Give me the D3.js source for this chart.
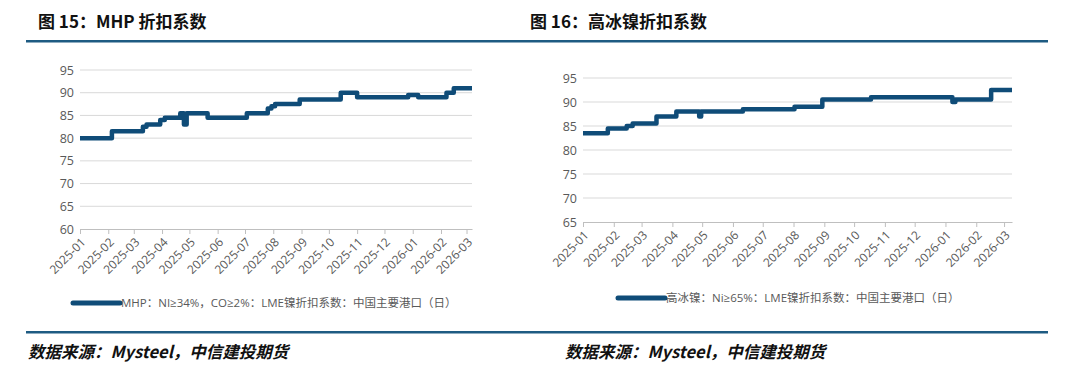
<!DOCTYPE html>
<html lang="zh">
<head>
  <meta charset="UTF-8">
  <title>折扣系数</title>
  <style type="text/css">
    body { margin: 0; background: #fff; }
    svg text { font-family: "Open Sans", "Noto Sans CJK SC", sans-serif; }
    .title { font-family: "Noto Sans CJK SC", serif; font-size: 17px; font-weight: 700; fill: #111; }
    .source { font-family: "Noto Sans CJK SC", serif; font-size: 16.5px; font-weight: 700; font-style: italic; fill: #111; }
    .tick text { font-size: 12px; fill: #595959; }
    .legend { font-size: 11.5px; fill: #595959; }
  </style>
</head>
<body>
<svg id="chart" width="1080" height="369"></svg>

<script src="https://d3js.org/d3.v7.min.js"></script>
<script>
  // MHP 折扣系数 (step changes)
  const mhpDates = ["2025-01-01","2025-02-05","2025-03-11","2025-03-15","2025-03-30","2025-04-04","2025-04-21",
    "2025-04-25","2025-04-28","2025-05-21","2025-07-03","2025-07-26","2025-07-30","2025-08-03","2025-08-30",
    "2025-10-14","2025-11-01","2025-12-27","2026-01-07","2026-02-07","2026-02-15","2026-03-07"]
  const mhpValues = [80, 81.5, 82.5, 83, 84, 84.5, 85.5, 83, 85.5, 84.5, 85.5, 86.5, 87, 87.5, 88.5,
    90, 89, 89.5, 89, 90, 91, 91]

  // 高冰镍 折扣系数 (step changes)
  const nickelDates = ["2025-01-01","2025-01-26","2025-02-14","2025-02-20","2025-03-16","2025-04-05","2025-04-28",
    "2025-04-30","2025-06-11","2025-08-02","2025-08-30","2025-10-18","2026-01-08","2026-01-11","2026-02-16","2026-03-09"]
  const nickelValues = [83.5, 84.5, 85, 85.5, 87, 88, 87, 88, 88.5, 89, 90.5, 91, 90, 90.5, 92.5, 92.5]

  const mhpTicks = [60, 65, 70, 75, 80, 85, 90, 95]
  const nickelTicks = [65, 70, 75, 80, 85, 90, 95]

  const mhpLegend = "MHP：NI≥34%，CO≥2%：LME镍折扣系数：中国主要港口（日）"
  const nickelLegend = "高冰镍：Ni≥65%：LME镍折扣系数：中国主要港口（日）"

  const parse = d3.timeParse("%Y-%m-%d")
  const fmt = d3.timeFormat("%Y-%m")
  const lineColor = "#0f4c78"
  const svg = d3.select("#chart")

  // header and footer rules
  svg.append("rect").attr("x", 26).attr("y", 40).attr("width", 1022).attr("height", 2.5).attr("fill", "#1e5b82")
  svg.append("rect").attr("x", 26).attr("y", 331).attr("width", 1022).attr("height", 2.5).attr("fill", "#1e5b82")

  svg.append("text").attr("class", "title").attr("x", 38).attr("y", 28).text("图 15：MHP 折扣系数")
  svg.append("text").attr("class", "title").attr("x", 530).attr("y", 28).text("图 16：高冰镍折扣系数")
  svg.append("text").attr("class", "source").attr("x", 28).attr("y", 358).text("数据来源：Mysteel，中信建投期货")
  svg.append("text").attr("class", "source").attr("x", 565).attr("y", 358).text("数据来源：Mysteel，中信建投期货")

  function drawPanel (opt) {
    const g = svg.append("g")
    const x = d3.scaleTime()
      .domain([parse(opt.dates[0]), parse(opt.dates[opt.dates.length - 1])])
      .range([opt.x0, opt.x1])
    const y = d3.scaleLinear().domain([opt.yTicks[0], opt.yTicks[opt.yTicks.length - 1]]).range([opt.y0, opt.y1])

    // grid
    g.selectAll(".grid").data(opt.yTicks.slice(1)).enter().append("line")
      .attr("x1", opt.x0).attr("x2", opt.x1)
      .attr("y1", d => y(d)).attr("y2", d => y(d))
      .attr("stroke", "#d9d9d9").attr("stroke-width", 1)

    // y axis labels
    const ya = g.append("g").attr("transform", `translate(${opt.x0 - 6},0)`)
      .call(d3.axisLeft(y).tickValues(opt.yTicks).tickSize(0).tickPadding(0))
    ya.select(".domain").remove()
    ya.selectAll("text").style("font-size", "12.5px")

    // x axis
    const xa = g.append("g").attr("transform", `translate(0,${opt.y0})`)
      .call(d3.axisBottom(x).ticks(d3.timeMonth.every(1)).tickFormat(fmt).tickSize(5).tickSizeOuter(0))
    xa.select(".domain").attr("stroke", "#bfbfbf")
    xa.selectAll(".tick line").attr("stroke", "#bfbfbf")
    xa.selectAll(".tick text")
      .attr("text-anchor", "end")
      .attr("transform", "translate(3,11) rotate(-45)")
      .attr("dy", "0.35em").attr("y", 0).attr("x", 0)

    // line
    const pts = opt.dates.map((d, i) => [parse(d), opt.values[i]])
    g.append("path").datum(pts)
      .attr("fill", "none").attr("stroke", lineColor).attr("stroke-width", 4.5)
      .attr("stroke-linejoin", "round")
      .attr("d", d3.line().x(d => x(d[0])).y(d => y(d[1])).curve(d3.curveStepAfter))

    // legend
    g.append("line").attr("x1", opt.lx).attr("x2", opt.lx + 47)
      .attr("y1", opt.ly).attr("y2", opt.ly)
      .attr("stroke", lineColor).attr("stroke-width", 5).attr("stroke-linecap", "round")
    g.append("text").attr("class", "legend").attr("x", opt.lx + 48).attr("y", opt.ly + 4).text(opt.legend)
  }

  drawPanel({ dates: mhpDates, values: mhpValues, yTicks: mhpTicks, x0: 80, x1: 472, y0: 229, y1: 70,
    lx: 73, ly: 303, legend: mhpLegend })
  drawPanel({ dates: nickelDates, values: nickelValues, yTicks: nickelTicks, x0: 583, x1: 1012, y0: 222, y1: 78,
    lx: 618, ly: 298, legend: nickelLegend })
</script>
</body>
</html>
